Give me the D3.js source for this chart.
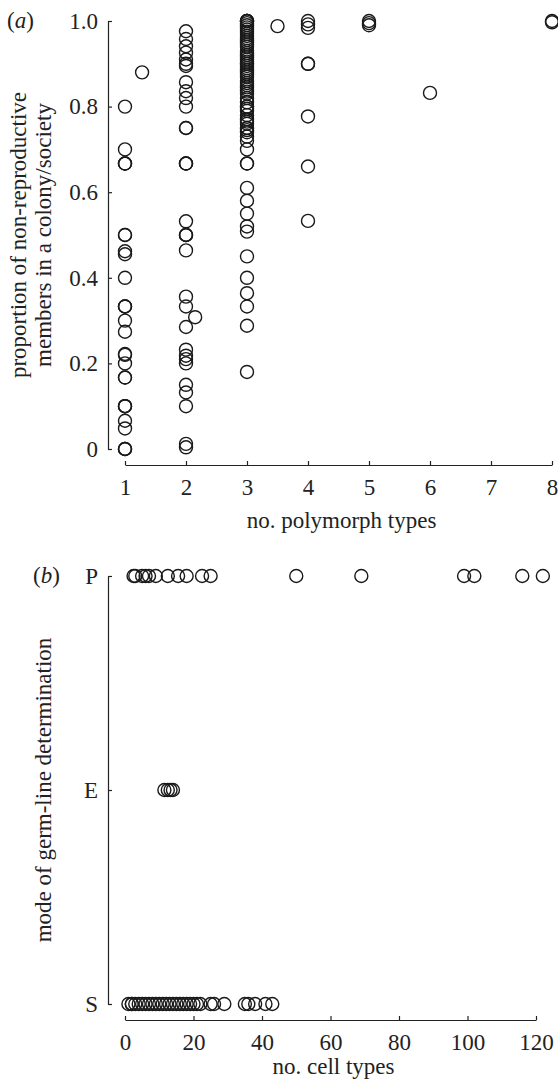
<!DOCTYPE html>
<html>
<head>
<meta charset="utf-8">
<script src="https://cdn.jsdelivr.net/npm/d3@7/dist/d3.min.js"></script>
<style>
    body { margin: 0; background: #fff; }
    text { font-family: "Liberation Serif", "Times New Roman", serif; fill: #222; }
    .axis path, .axis line { stroke: #222; stroke-width: 1.2; }
    .axis text { font-size: 23px; font-family: "Liberation Serif", "Times New Roman", serif; fill: #222; }
    .dot { fill: none; stroke: #1a1a1a; stroke-width: 1.4; }
</style>
</head>
<body>
<div id="chart"></div>
<script>
// panel (a): proportion of non-reproductive members, grouped by no. polymorph types
const polyTicks = [1, 2, 3, 4, 5, 6, 7, 8];
const propTicks = [0, 0.2, 0.4, 0.6, 0.8, 1.0];
const polyOne = [0.8, 0.7, 0.667, 0.667, 0.667, 0.5, 0.5, 0.462, 0.455, 0.4, 0.333, 0.333, 0.333,
    0.3, 0.274, 0.222, 0.22, 0.2, 0.167, 0.167, 0.1, 0.1, 0.1, 0.066, 0.048, 0, 0, 0];
const polyTwo = [0.976, 0.958, 0.941, 0.926, 0.91, 0.9, 0.895, 0.857, 0.836, 0.82, 0.8, 0.75, 0.75,
    0.667, 0.667, 0.667, 0.532, 0.5, 0.5, 0.5, 0.464, 0.356, 0.333, 0.285, 0.232, 0.218, 0.21,
    0.2, 0.15, 0.132, 0.1, 0.012, 0.004];
const polyThree = [1, 1, 1, 1, 0.995, 0.99, 0.985, 0.98, 0.975, 0.97, 0.965, 0.96, 0.955, 0.95,
    0.945, 0.94, 0.93, 0.925, 0.92, 0.915, 0.91, 0.905, 0.9, 0.9, 0.895, 0.89, 0.885, 0.88, 0.875,
    0.87, 0.86, 0.855, 0.85, 0.845, 0.84, 0.835, 0.83, 0.82, 0.81, 0.8, 0.8, 0.795, 0.79, 0.78,
    0.77, 0.765, 0.76, 0.75, 0.75, 0.745, 0.74, 0.73, 0.72, 0.7, 0.667, 0.667, 0.61, 0.58, 0.55,
    0.52, 0.508, 0.45, 0.4, 0.364, 0.333, 0.288, 0.18];
const polyFour = [1, 0.992, 0.984, 0.9, 0.9, 0.777, 0.66, 0.533];
const polyFive = [1, 0.995, 0.99];
const polySix = [0.832];
const polyEight = [1, 0.997];
const offColumnX = [1.28, 2.15, 3.5];
const offColumnY = [0.88, 0.308, 0.988];

// panel (b): mode of germ-line determination against no. cell types
const germModes = ["S", "E", "P"];
const cellTicks = [0, 20, 40, 60, 80, 100, 120];
const cellsP = [2.5, 3, 5, 6, 7, 9, 12.5, 15.5, 18, 22.5, 25, 50, 69, 99, 102, 116, 122];
const cellsE = [11.5, 12.5, 13.3, 14];
const cellsS = [1, 2, 2, 3, 4, 5, 6, 7, 8, 9, 10, 11, 12, 13, 14, 15, 16, 17, 18, 19, 20, 21,
    22, 25, 26, 29, 35, 36, 38, 41, 43];

class ScatterPanel {
    constructor(svg, opts) {
        this.svg = svg;
        this.opts = opts;
    }

    draw(points) {
        let vis = this;
        let o = vis.opts;
        vis.g = vis.svg.append("g");

        vis.xAxis = d3.axisBottom(o.x)
            .tickValues(o.xTicks)
            .tickFormat(d3.format("d"))
            .tickSizeInner(-4)
            .tickSizeOuter(0)
            .tickPadding(o.xPad);

        vis.yAxis = d3.axisLeft(o.y)
            .tickSizeInner(-4)
            .tickSizeOuter(0)
            .tickPadding(10);
        if (o.yTicks) vis.yAxis.tickValues(o.yTicks);
        if (o.yFormat) vis.yAxis.tickFormat(o.yFormat);

        vis.g.append("g")
            .attr("class", "x-axis axis")
            .attr("transform", "translate(0," + o.xAxisY + ")")
            .call(vis.xAxis);

        vis.g.append("g")
            .attr("class", "y-axis axis")
            .attr("transform", "translate(" + o.yAxisX + ",0)")
            .call(vis.yAxis);

        vis.g.selectAll(".dot")
            .data(points)
            .enter().append("circle")
            .attr("class", "dot")
            .attr("cx", d => o.x(d[0]))
            .attr("cy", d => o.y(d[1]))
            .attr("r", 6.5);

        // x label
        let xr = o.x.range();
        vis.g.append("text")
            .attr("text-anchor", "middle")
            .attr("x", (xr[0] + xr[1]) / 2 + 3)
            .attr("y", o.xLabelY)
            .style("font-size", "23px")
            .text(o.xLabel);

        // y label, possibly two lines
        o.yLabel.forEach((line, i) => {
            vis.g.append("text")
                .attr("text-anchor", "middle")
                .attr("transform", "translate(" + o.yLabelX[i] + "," + o.yLabelMid + ") rotate(-90)")
                .style("font-size", "23px")
                .text(line);
        });

        // panel letter
        let tag = vis.g.append("text")
            .attr("x", o.tagX)
            .attr("y", o.tagY)
            .style("font-size", "23px");
        tag.append("tspan").text("(");
        tag.append("tspan").style("font-style", "italic").text(o.tag);
        tag.append("tspan").text(")");
    }
}

const W = 558, H = 1079;
const svg = d3.select("#chart").append("svg")
    .attr("width", W)
    .attr("height", H);

// ---- panel (a)
let pointsA = [];
[[1, polyOne], [2, polyTwo], [3, polyThree], [4, polyFour], [5, polyFive], [6, polySix], [8, polyEight]]
    .forEach(c => c[1].forEach(v => pointsA.push([c[0], v])));
offColumnX.forEach((x, i) => pointsA.push([x, offColumnY[i]]));

let xA = d3.scaleLinear().domain([1, 8]).range([125, 552]);
let yA = d3.scaleLinear().domain([0, 1]).range([449, 21]);

new ScatterPanel(svg, {
    x: xA, y: yA,
    xTicks: polyTicks, yTicks: propTicks,
    yFormat: d => d === 0 ? "0" : d3.format(".1f")(d),
    xAxisY: 465, yAxisX: 108, xPad: 14,
    xLabel: "no. polymorph types", xLabelY: 528,
    yLabel: ["proportion of non-reproductive", "members in a colony/society"],
    yLabelX: [26, 51], yLabelMid: 235,
    tag: "a", tagX: 7, tagY: 28
}).draw(pointsA);

// ---- panel (b)
let pointsB = [];
cellsS.forEach(v => pointsB.push([v, "S"]));
cellsE.forEach(v => pointsB.push([v, "E"]));
cellsP.forEach(v => pointsB.push([v, "P"]));

let xB = d3.scaleLinear().domain([0, 120]).range([125, 536]);
let yB = d3.scalePoint().domain(germModes).range([1004, 576]);

new ScatterPanel(svg, {
    x: xB, y: yB,
    xTicks: cellTicks,
    xAxisY: 1020, yAxisX: 108, xPad: 14,
    xLabel: "no. cell types", xLabelY: 1074,
    yLabel: ["mode of germ-line determination"],
    yLabelX: [51], yLabelMid: 790,
    tag: "b", tagX: 33, tagY: 583
}).draw(pointsB);
</script>
</body>
</html>
